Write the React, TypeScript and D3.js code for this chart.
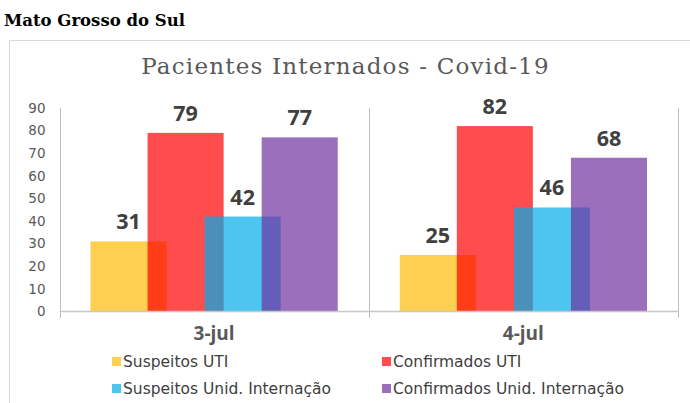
import React from "react";
import * as d3 from "d3";

const categories = ["3-jul", "4-jul"];
const seriesNames = ["Suspeitos UTI", "Confirmados UTI", "Suspeitos Unid. Internação", "Confirmados Unid. Internação"];
const seriesColors = ["rgb(255,186,4)", "rgb(255,0,0)", "rgb(0,172,234)", "rgb(112,50,160)"];
const suspeitosUTI = [31, 25];
const confirmadosUTI = [79, 82];
const suspeitosUnid = [42, 46];
const confirmadosUnid = [77, 68];
const yTicks = [0, 10, 20, 30, 40, 50, 60, 70, 80, 90];

const seriesValues = [suspeitosUTI, confirmadosUTI, suspeitosUnid, confirmadosUnid];

export default function App() {
  const W = 690, H = 403;
  const plotL = 59.5, plotR = 678, plotT = 108, plotB = 311.5;
  const x = d3.scaleBand<string>().domain(categories).range([plotL, plotR]).padding(0);
  const y = d3.scaleLinear().domain([0, 90]).range([plotB, plotT]);
  const bw = x.bandwidth();
  const barW = bw * 0.246;
  const step = barW * 0.75;
  const groupW = barW + step * 3;
  const boundaries = [plotL, ...categories.map((c) => (x(c) as number) + bw)];

  return (
    <svg width={W} height={H} style={{ position: "absolute", left: 0, top: 0 }}>
      <rect x={0} y={0} width={W} height={H} fill="#fff" />
      <text x={4} y={26} fontFamily="'DejaVu Serif', serif" fontWeight="bold" fontSize={16.5} fill="#000">
        Mato Grosso do Sul
      </text>
      <rect x={9.5} y={40.5} width={W + 20} height={H + 20} fill="none" stroke="#d9d9d9" strokeWidth={1} />
      <text x={345.5} y={74} textAnchor="middle" fontFamily="'DejaVu Serif', serif" fontSize={23} letterSpacing={1.2} fill="#595959">
        Pacientes Internados - Covid-19
      </text>
      {yTicks.map((t) => (
        <text key={t} x={45.5} y={y(t)} dy="0.35em" textAnchor="end" fontFamily="'DejaVu Sans', sans-serif" fontSize={13.5} fill="#595959">
          {t}
        </text>
      ))}
      {boundaries.map((bx, i) => (
        <line key={i} x1={Math.round(bx) + 0.5} x2={Math.round(bx) + 0.5} y1={plotT} y2={318} stroke="#bfbfbf" strokeWidth={1} />
      ))}
      {categories.map((c, ci) => {
        const start = (x(c) as number) + bw / 2 - groupW / 2;
        return (
          <g key={c}>
            {seriesValues.map((vals, si) => {
              const v = vals[ci];
              const bx = start + si * step;
              return (
                <rect key={si} x={bx} y={y(v)} width={barW} height={plotB - y(v)} fill={seriesColors[si]} fillOpacity={0.7} />
              );
            })}
            {seriesValues.map((vals, si) => {
              const v = vals[ci];
              const bx = start + si * step;
              return (
                <text key={"l" + si} x={bx + barW / 2} y={y(v) - 12} textAnchor="middle" fontFamily="'Open Sans', sans-serif" fontWeight="bold" fontSize={21.5} fill="#404040">
                  {v}
                </text>
              );
            })}
            <text x={(x(c) as number) + bw / 2} y={340} textAnchor="middle" fontFamily="'Open Sans', sans-serif" fontWeight="bold" fontSize={19} fill="#595959">
              {c}
            </text>
          </g>
        );
      })}
      <line x1={plotL} x2={plotR + 1} y1={plotB} y2={plotB} stroke="#c8c8c8" strokeWidth={1.5} />
      {seriesNames.map((n, i) => {
        const col = i % 2;
        const row = Math.floor(i / 2);
        const lx = col === 0 ? 112 : 382;
        const ly = row === 0 ? 362 : 389;
        return (
          <g key={n}>
            <rect x={lx} y={ly - 5} width={9} height={9} fill={seriesColors[i]} fillOpacity={0.7} />
            <text x={lx + 11} y={ly} dy="0.35em" fontFamily="'DejaVu Sans', sans-serif" fontSize={15.5} fill="#404040">
              {n}
            </text>
          </g>
        );
      })}
    </svg>
  );
}
